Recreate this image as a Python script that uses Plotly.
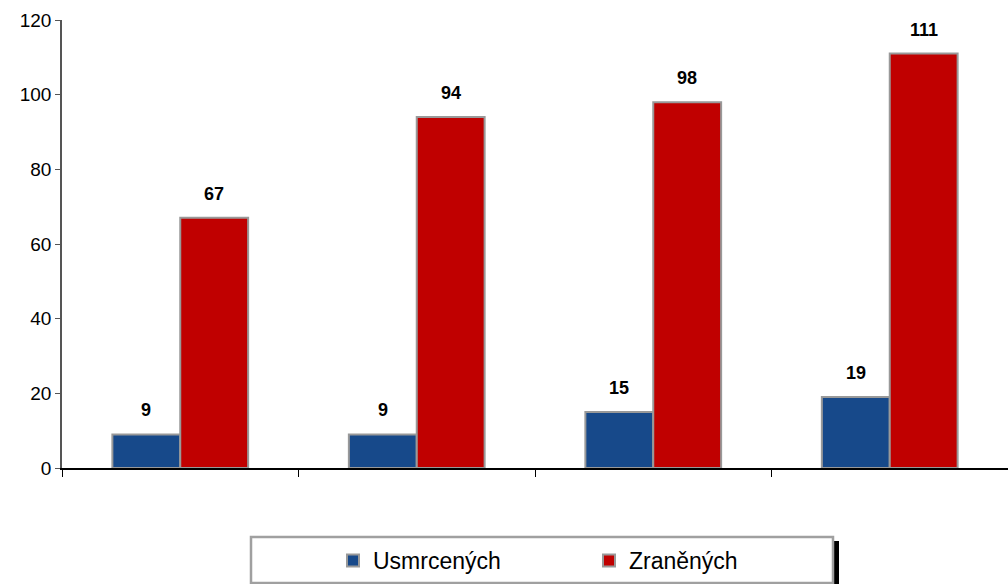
import plotly.graph_objects as go

categories = ["Kat 1", "Kat 2", "Kat 3", "Kat 4"]
usmrcenych = [9, 9, 15, 19]
zranenych = [67, 94, 98, 111]
series_names = ["Usmrcených", "Zraněných"]
y_ticks = [0, 20, 40, 60, 80, 100, 120]

W, H = 1008, 584
L, R, T, B = 62, 0, 20, 116
PW, PH = W - L - R, H - T - B

def px_x(p):
    return (p - L) / PW

def px_y(p):
    return (H - B - p) / PH

BLUE = "#17498A"
RED = "#C00000"
FONT = "Liberation Sans, Arial, sans-serif"

fig = go.Figure()
fig.add_trace(go.Bar(x=categories, y=usmrcenych, name=series_names[0],
                     marker=dict(color=BLUE, line=dict(color="#999999", width=2))))
fig.add_trace(go.Bar(x=categories, y=zranenych, name=series_names[1],
                     marker=dict(color=RED, line=dict(color="#999999", width=2))))

for i, c in enumerate(categories):
    for vals, shift in ((usmrcenych, -34), (zranenych, 34)):
        fig.add_annotation(x=c, y=vals[i], text="<b>%d</b>" % vals[i], showarrow=False,
                           xshift=shift, yshift=12, yanchor="bottom",
                           font=dict(family=FONT, size=18, color="black"))

# legend box with shadow
fig.add_shape(type="rect", xref="paper", yref="paper",
              x0=px_x(257), x1=px_x(839), y0=px_y(541), y1=px_y(592),
              fillcolor="black", line=dict(width=0), layer="below")
fig.add_shape(type="rect", xref="paper", yref="paper",
              x0=px_x(251), x1=px_x(833), y0=px_y(537), y1=px_y(583),
              fillcolor="white", line=dict(color="#A0A0A0", width=2.5), layer="below")

fig.update_layout(
    width=W, height=H,
    margin=dict(l=L, r=R, t=T, b=B, autoexpand=False),
    paper_bgcolor="white", plot_bgcolor="white",
    barmode="group", bargap=0.426, bargroupgap=0,
    font=dict(family=FONT, size=19, color="black"),
    showlegend=True,
    legend=dict(orientation="h", x=px_x(333), xanchor="left", y=px_y(539), yanchor="top",
                bgcolor="rgba(0,0,0,0)", borderwidth=0,
                entrywidth=211, entrywidthmode="pixels",
                font=dict(family=FONT, size=23, color="black")),
    xaxis=dict(type="category", showticklabels=False, showline=True, linecolor="black",
               linewidth=1.5, ticks="outside", tickson="boundaries", ticklen=7,
               tickcolor="black", showgrid=False, zeroline=False),
    yaxis=dict(range=[0, 120], tickvals=y_ticks, showline=True, linecolor="#555555",
               linewidth=1.5, ticks="outside", ticklen=5, tickcolor="#555555",
               showgrid=False, zeroline=False,
               tickfont=dict(family=FONT, size=19, color="black")),
)

fig.write_html("out.html", config={"displayModeBar": False},
               post_script="document.body.style.margin='0';document.body.style.overflow='hidden';")
